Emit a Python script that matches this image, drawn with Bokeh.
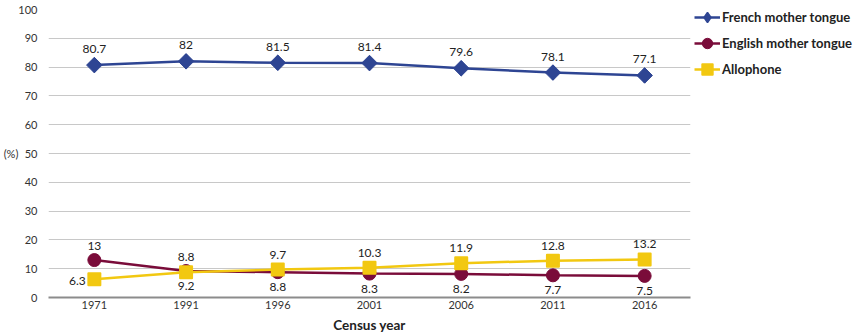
import math
from bokeh.plotting import figure
from bokeh.models import Range1d, FactorRange, Legend, LegendItem, ColumnDataSource, FixedTicker
from bokeh.core.properties import value
from bokeh.embed import file_html
from bokeh.resources import INLINE

years = ["1971", "1991", "1996", "2001", "2006", "2011", "2016"]
french = [80.7, 82, 81.5, 81.4, 79.6, 78.1, 77.1]
english = [13, 9.2, 8.8, 8.3, 8.2, 7.7, 7.5]
allophone = [6.3, 8.8, 9.7, 10.3, 11.9, 12.8, 13.2]
y_ticks = [0, 10, 20, 30, 40, 50, 60, 70, 80, 90, 100]

FONT = "Lato"
BLUE = "#2e4593"
MAROON = "#7a0c3a"
YELLOW = "#f2c811"

p = figure(frame_width=642, frame_height=288, x_range=FactorRange(*years), y_range=Range1d(0, 100),
           output_backend="svg", toolbar_location=None,
           min_border_left=48, min_border_top=9, min_border_bottom=0, min_border_right=0)
p.outline_line_color = None
p.background_fill_color = "white"

fmt = lambda v: ("%g" % v)

# French
r1l = p.line(years, french, line_color=BLUE, line_width=2.5)
# diamond glyph used for the legend (legend ignores marker angle); hidden under the rotated squares
r1k = p.scatter(years, french, marker="diamond", size=14, fill_color=BLUE, line_color=BLUE, line_width=1.5)
r1m = p.scatter(years, french, marker="square", angle=math.pi / 4, size=11, fill_color=BLUE, line_color=BLUE)
# English
r2l = p.line(years, english, line_color=MAROON, line_width=2.5)
r2m = p.scatter(years, english, marker="circle", size=13, fill_color=MAROON, line_color=MAROON)
# Allophone
r3l = p.line(years, allophone, line_color=YELLOW, line_width=2.5)
r3m = p.scatter(years, allophone, marker="square", size=12, fill_color=YELLOW, line_color=YELLOW,
                line_join="round", line_width=2)

# value labels
txt = dict(text_font=value(FONT), text_font_size="12px", text_color="#222222",
           text_align="center", text_baseline="middle")
src_f = ColumnDataSource(dict(x=years, y=french, text=[fmt(v) for v in french]))
p.text(x="x", y="y", text="text", source=src_f, y_offset=-16, **txt)

eng_dy, all_dy, all_dx = [], [], []
for e, a in zip(english, allophone):
    if e > a + 2:
        eng_dy.append(-14); all_dy.append(2); all_dx.append(-17)
    else:
        eng_dy.append(15); all_dy.append(-15); all_dx.append(0)
src_e = ColumnDataSource(dict(x=years, y=english, text=[fmt(v) for v in english], dy=eng_dy))
p.text(x="x", y="y", text="text", source=src_e, y_offset="dy", **txt)
src_a = ColumnDataSource(dict(x=years, y=allophone, text=[fmt(v) for v in allophone], dy=all_dy, dx=all_dx))
p.text(x="x", y="y", text="text", source=src_a, y_offset="dy", x_offset="dx", **txt)

# axes
p.yaxis.ticker = FixedTicker(ticks=y_ticks)
p.yaxis.axis_line_color = None
p.yaxis.major_tick_line_color = None
p.yaxis.minor_tick_line_color = None
p.yaxis.major_label_standoff = 5
p.yaxis.major_label_text_font = FONT
p.yaxis.major_label_text_font_size = "11px"
p.yaxis.major_label_text_color = "#333333"
p.yaxis.axis_label = "(%)"
p.yaxis.axis_label_orientation = "horizontal"
p.yaxis.axis_label_standoff = -3
p.yaxis.axis_label_text_font = FONT
p.yaxis.axis_label_text_font_style = "normal"
p.yaxis.axis_label_text_font_size = "11px"
p.yaxis.axis_label_text_color = "#333333"

p.xaxis.axis_line_color = "#8c8c8c"
p.xaxis.axis_line_width = 2
p.xaxis.major_tick_line_color = None
p.xaxis.major_tick_out = 0
p.xaxis.minor_tick_line_color = None
p.xaxis.major_label_standoff = 3
p.xaxis.major_label_text_font = FONT
p.xaxis.major_label_text_font_size = "11px"
p.xaxis.major_label_text_color = "#333333"
p.xaxis.axis_label = "Census year"
p.xaxis.axis_label_standoff = 5
p.xaxis.axis_label_text_font = FONT
p.xaxis.axis_label_text_font_style = "bold"
p.xaxis.axis_label_text_font_size = "13.5px"
p.xaxis.axis_label_text_color = "#222222"

p.xgrid.grid_line_color = None
p.ygrid.grid_line_color = "#c8c8c8"
p.ygrid.grid_line_width = 1

legend = Legend(items=[
    LegendItem(label="French mother tongue", renderers=[r1l, r1k]),
    LegendItem(label="English mother tongue", renderers=[r2l, r2m]),
    LegendItem(label="Allophone", renderers=[r3l, r3m]),
], location=(4, 215), margin=0, padding=0, spacing=0,
   label_height=26, glyph_height=26, glyph_width=26, label_standoff=2,
   border_line_color=None, background_fill_alpha=0,
   label_text_font=FONT, label_text_font_style="bold", label_text_font_size="13px",
   label_text_color="#222222")
p.add_layout(legend, "right")

open("out.html", "w").write(file_html(p, INLINE))
